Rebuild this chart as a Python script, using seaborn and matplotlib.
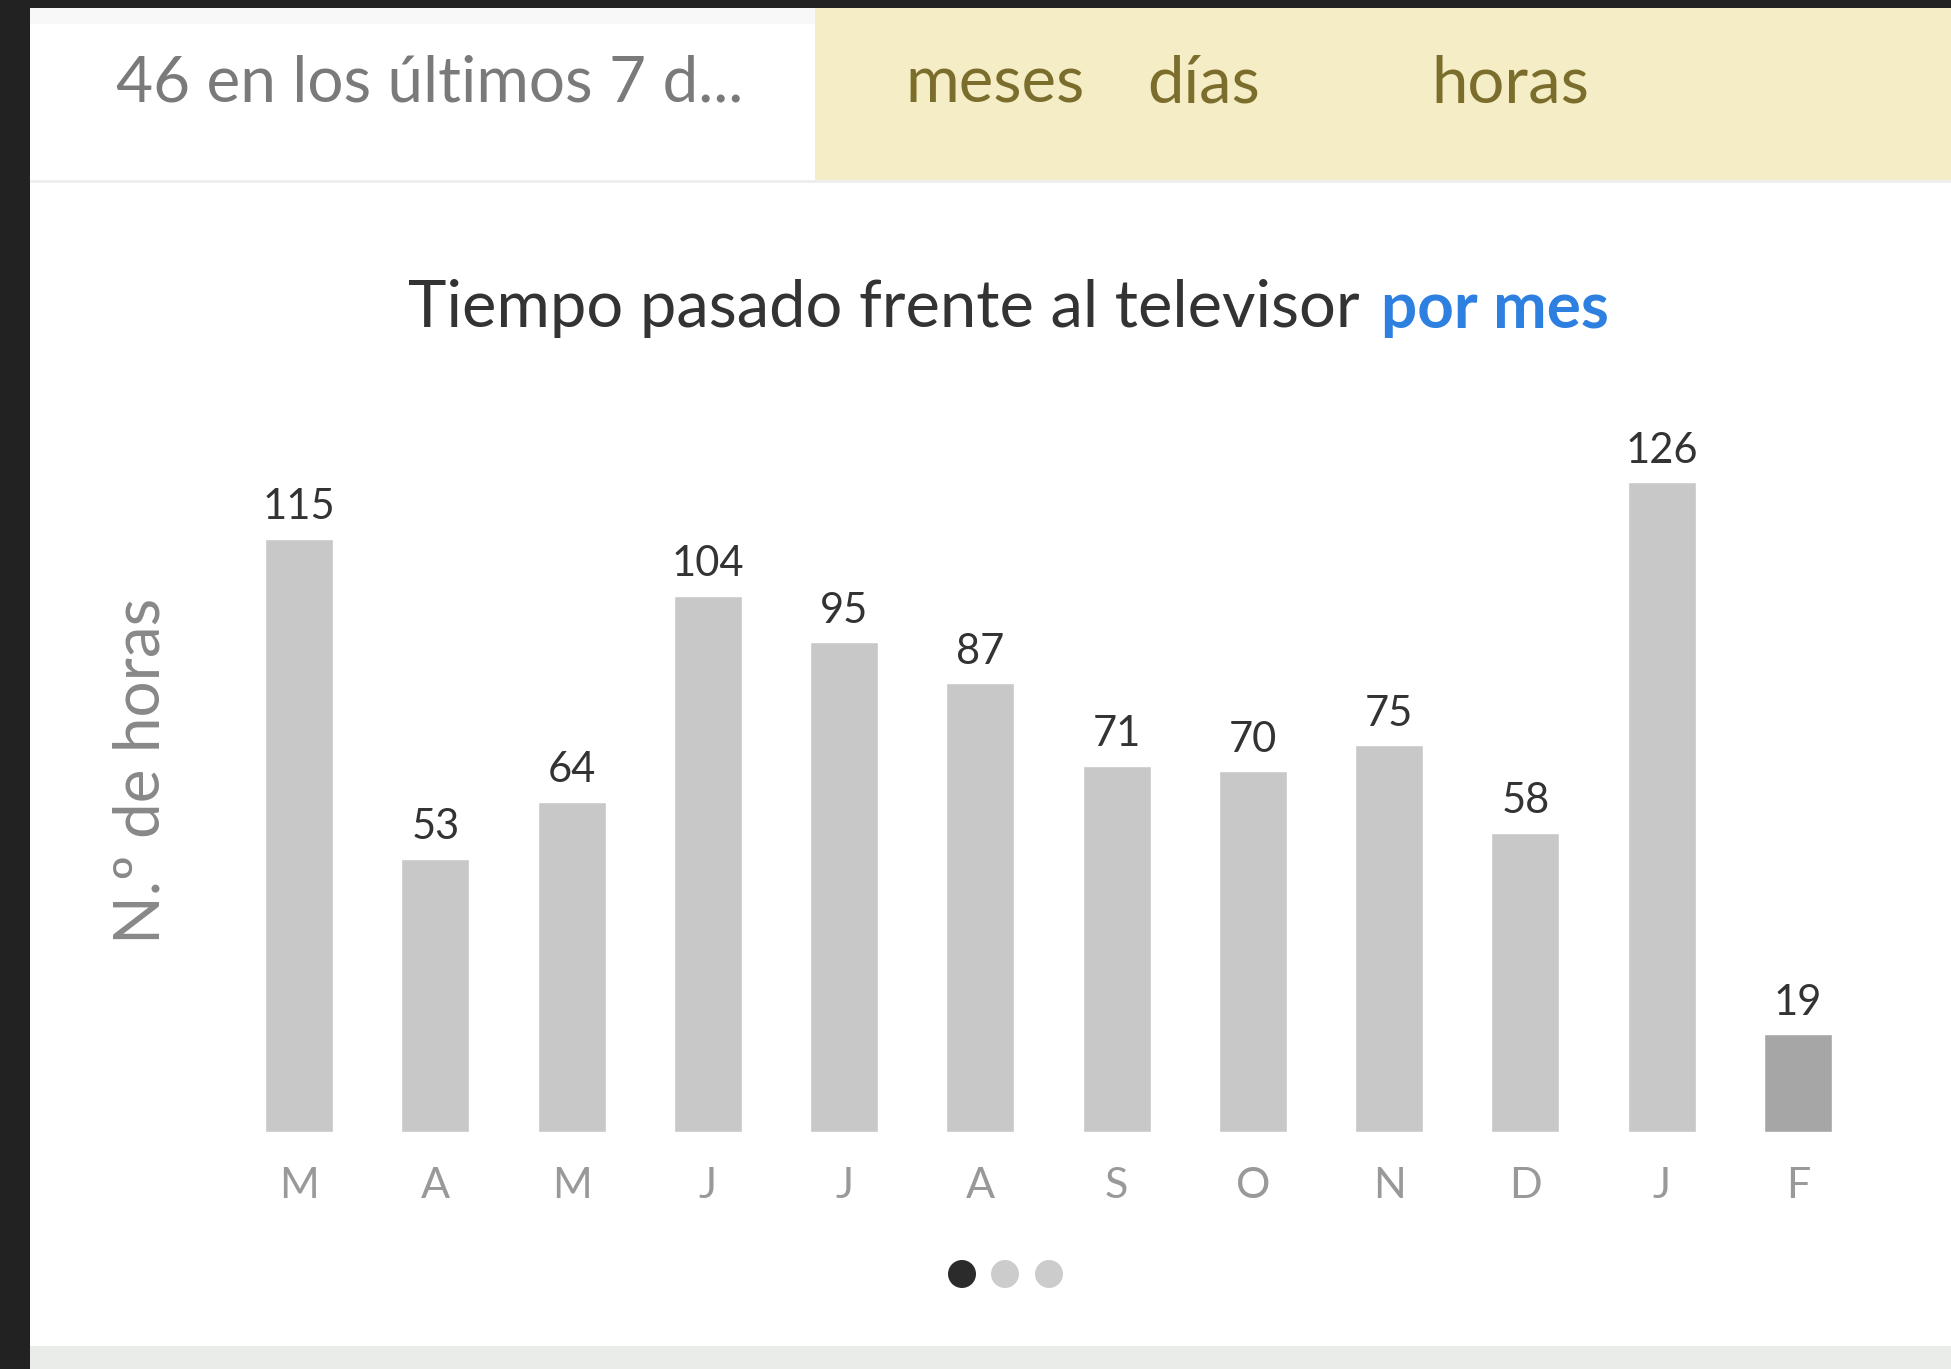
import pandas as pd
import matplotlib.pyplot as plt
import matplotlib.patches as mpatches
import seaborn as sns

# datos del grafico (horas de TV por mes)
months = ["Mar", "Abr", "May", "Jun", "Jul", "Ago", "Sep", "Oct", "Nov", "Dic", "Ene", "Feb"]
month_labels = ["M", "A", "M", "J", "J", "A", "S", "O", "N", "D", "J", "F"]
hours = [115, 53, 64, 104, 95, 87, 71, 70, 75, 58, 126, 19]
bar_colors = ["#c8c8c8"] * 11 + ["#a6a6a6"]
tabs = ["meses", "días", "horas"]

df = pd.DataFrame({"mes": months, "horas": hours})

sns.set_theme(style="white")
plt.rcParams["font.family"] = ["Lato", "DejaVu Sans"]

W, H = 1951, 1369
fig = plt.figure(figsize=(W / 100, H / 100), dpi=100)
fig.patch.set_facecolor("#222222")


def fx(px):
    return px / W


def fy(py):
    # pixel desde arriba -> fraccion desde abajo
    return 1 - py / H


def rect(x0, y0, x1, y1, color):
    fig.add_artist(mpatches.Rectangle((fx(x0), fy(y1)), fx(x1 - x0), (y1 - y0) / H,
                                      transform=fig.transFigure, facecolor=color,
                                      edgecolor="none", zorder=0))


# fondo del panel
rect(30, 8, W, 1346, "white")
rect(30, 1346, W, H, "#e9ece8")
rect(30, 8, 815, 180, "#ffffff")
rect(30, 8, 815, 24, "#f8f8f8")
rect(815, 8, W, 180, "#f4edc6")
rect(30, 180, W, 183, "#eeeeee")

# cabecera
fig.text(fx(116), fy(84), "46 en los últimos 7 d...", fontsize=46, color="#7a7a7a",
         va="center", ha="left")
for label, x in zip(tabs, [905, 1147, 1431]):
    fig.text(fx(x), fy(84), label, fontsize=47, color="#7b6e2c", va="center", ha="left")

# titulo
fig.text(fx(408), fy(309), "Tiempo pasado frente al televisor", fontsize=46.8,
         color="#333333", va="center", ha="left")
fig.text(fx(1381), fy(309), "por mes", fontsize=46, color="#2d7fe0",
         fontweight="bold", va="center", ha="left")

# eje y
fig.text(fx(141), fy(771), "N.º de horas", fontsize=46, color="#888888",
         rotation=90, va="center", ha="center")

ax = fig.add_axes([fx(231), fy(1132), fx(1866 - 231), (1132 - 410) / H])
ax.set_facecolor("none")
sns.barplot(data=df, x="mes", y="horas", hue="mes", palette=bar_colors,
            width=0.5, legend=False, saturation=1, ax=ax)
ax.set_ylim(0, 140)
ax.set_xlim(-0.5, 11.5)
for c in ax.containers:
    ax.bar_label(c, fontsize=30, color="#333333", padding=9)
ax.set_xticks(range(len(months)))
ax.set_xticklabels(month_labels, fontsize=31, color="#999999")
ax.tick_params(axis="x", length=0, pad=25)
ax.set_yticks([])
ax.set_xlabel("")
ax.set_ylabel("")
sns.despine(ax=ax, left=True, bottom=True)

# puntos de paginacion
for x, col in zip([962, 1005, 1049], ["#2b2b2b", "#cccccc", "#cccccc"]):
    fig.add_artist(mpatches.Ellipse((fx(x), fy(1274)), fx(28), 28 / H,
                                    transform=fig.transFigure, facecolor=col,
                                    edgecolor="none"))

fig.savefig("out.png", dpi=100, facecolor=fig.get_facecolor())
